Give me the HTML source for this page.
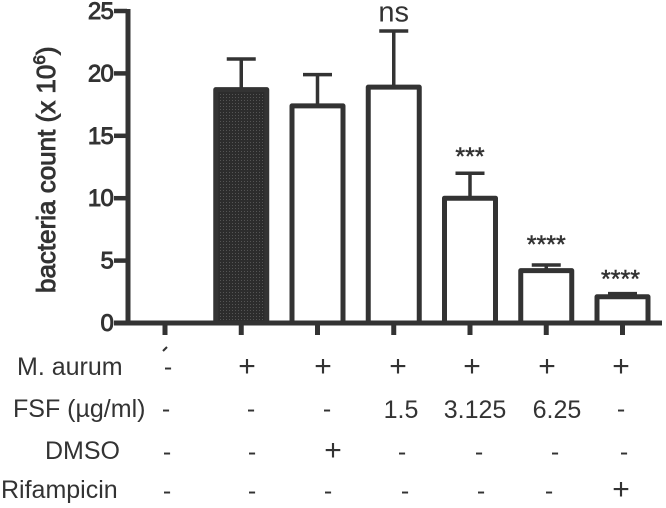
<!DOCTYPE html>
<html>
<head>
<meta charset="utf-8">
<style>
html,body{margin:0;padding:0;background:#fff;width:666px;height:508px;overflow:hidden}
svg{display:block}
text{font-family:"Liberation Sans",sans-serif;fill:#333}
.tick{font-size:24px;fill:#333;stroke:#333;stroke-width:0.9px;letter-spacing:-0.8px}
.cell{font-size:25px;text-anchor:middle}
.plus{font-size:30px;text-anchor:middle}
.lab{font-size:25px;text-anchor:start}
.star{stroke:#333;stroke-width:0.5px}
</style>
</head>
<body>
<svg id="chart" width="666" height="508" viewBox="0 0 666 508" xmlns="http://www.w3.org/2000/svg">
  <defs>
    <pattern id="halftone" width="3" height="3" patternUnits="userSpaceOnUse">
      <rect width="3" height="3" fill="#2c2c2c"></rect>
      <circle cx="1.5" cy="1.5" r="0.55" fill="#5e5e5e"></circle>
    </pattern>
  </defs>
  <g id="marks"></g>

  <text transform="translate(55,293) rotate(-90)" style="font-size:26px;stroke:#333;stroke-width:0.9px">bacteria count (x 10<tspan dy="-10" style="font-size:17px">6</tspan><tspan dy="10">)</tspan></text>

  <path d="M163 351 L167 347" stroke="#333" stroke-width="2"></path>

  <g>
    <text class="lab" x="17" y="375">M. aurum</text>
    <text class="cell" x="168" y="375">-</text>
    <text class="plus" x="247" y="376">+</text>
    <text class="plus" x="323" y="376">+</text>
    <text class="plus" x="398" y="376">+</text>
    <text class="plus" x="472" y="376">+</text>
    <text class="plus" x="547" y="376">+</text>
    <text class="plus" x="621" y="376">+</text>

    <text class="lab" x="13" y="417">FSF (µg/ml)</text>
    <text class="cell" x="166" y="417">-</text>
    <text class="cell" x="251" y="417">-</text>
    <text class="cell" x="327" y="417">-</text>
    <text class="cell" x="401" y="418">1.5</text>
    <text class="cell" x="475" y="418">3.125</text>
    <text class="cell" x="557" y="418">6.25</text>
    <text class="cell" x="621" y="417">-</text>

    <text class="lab" x="45" y="459">DMSO</text>
    <text class="cell" x="167" y="460">-</text>
    <text class="cell" x="252" y="460">-</text>
    <text class="plus" x="333" y="460">+</text>
    <text class="cell" x="402" y="460">-</text>
    <text class="cell" x="479" y="460">-</text>
    <text class="cell" x="555" y="460">-</text>
    <text class="cell" x="624" y="460">-</text>

    <text class="lab" x="1" y="498">Rifampicin</text>
    <text class="cell" x="167" y="499">-</text>
    <text class="cell" x="252" y="499">-</text>
    <text class="cell" x="328" y="499">-</text>
    <text class="cell" x="405" y="499">-</text>
    <text class="cell" x="481" y="499">-</text>
    <text class="cell" x="549" y="499">-</text>
    <text class="plus" x="621" y="499">+</text>
  </g>
</svg>
<script>
const categories = ['blank', 'm-aurum', 'dmso', 'fsf-1-5', 'fsf-3-125', 'fsf-6-25', 'rifampicin'];
const barValues = [0, 18.7, 17.4, 18.9, 10, 4.2, 2.1];
const errorTops = [0, 21.15, 19.9, 23.4, 12, 4.65, 2.35];
const significance = ['', '', '', 'ns', '***', '****', '****'];
const yTickLabels = [0, 5, 10, 15, 20, 25];

const NS = 'http://www.w3.org/2000/svg';
const root = document.getElementById('marks');
const INK = '#333';
const yScale = v => 323 - v * 12.48;
const xCenter = i => 165 + i * 76.25;

function add(tag, attrs, parent) {
  const el = document.createElementNS(NS, tag);
  for (const k in attrs) el.setAttribute(k, attrs[k]);
  (parent || root).appendChild(el);
  return el;
}

categories.forEach((cat, i) => {
  const v = barValues[i];
  if (v <= 0) return;
  const cx = xCenter(i);
  const top = yScale(v);
  const errTop = yScale(errorTops[i]);

  const stem = add('line', { x1: cx, x2: cx, y1: errTop, y2: top, stroke: INK, 'stroke-width': 3.5 });
  
  

  const cap = add('line', { x1: cx - 14.5, x2: cx + 14.5, y1: errTop, y2: errTop, stroke: INK, 'stroke-width': 3.5 });
  
  

  const isFilled = i === 1;
  const bar = add('rect', {
    x: cx - 25.5, y: top, width: 51, height: 323 - top,
    fill: isFilled ? 'url(#halftone)' : '#fff',
    stroke: INK, 'stroke-width': 5, 'stroke-linejoin': 'round'
  });
  
  

  if (significance[i]) {
    const isNs = significance[i] === 'ns';
    const gap = isNs ? 9.5 : (i === 4 ? 8 : i === 5 ? 12 : 6);
    const label = add('text', {
      x: i === 6 ? cx - 2 : cx,
      y: errTop - gap,
      'text-anchor': 'middle'
    });
    label.style.fontSize = isNs ? '29px' : '25px';
    if (!isNs) label.setAttribute('class', 'star');
    label.textContent = significance[i];
    
    
  }
});

const yAxis = add('line', { x1: 128, x2: 128, y1: yScale(25) - 2, y2: 325.5, stroke: INK, 'stroke-width': 5 });



const xAxis = add('line', { x1: 114, x2: 662, y1: 323, y2: 323, stroke: INK, 'stroke-width': 5 });



yTickLabels.forEach(t => {
  const y = yScale(t);
  const tick = add('line', { x1: 114, x2: 127, y1: y, y2: y, stroke: INK, 'stroke-width': 4.5 });
  
  
  const lab = add('text', { x: 113, y: y + 8, 'text-anchor': 'end', class: 'tick' });
  lab.textContent = t;
  
  
});

categories.forEach((cat, i) => {
  const x = xCenter(i);
  const tick = add('line', { x1: x, x2: x, y1: 323, y2: 335, stroke: INK, 'stroke-width': 5 });
  
  
});
</script>
</body>
</html>
